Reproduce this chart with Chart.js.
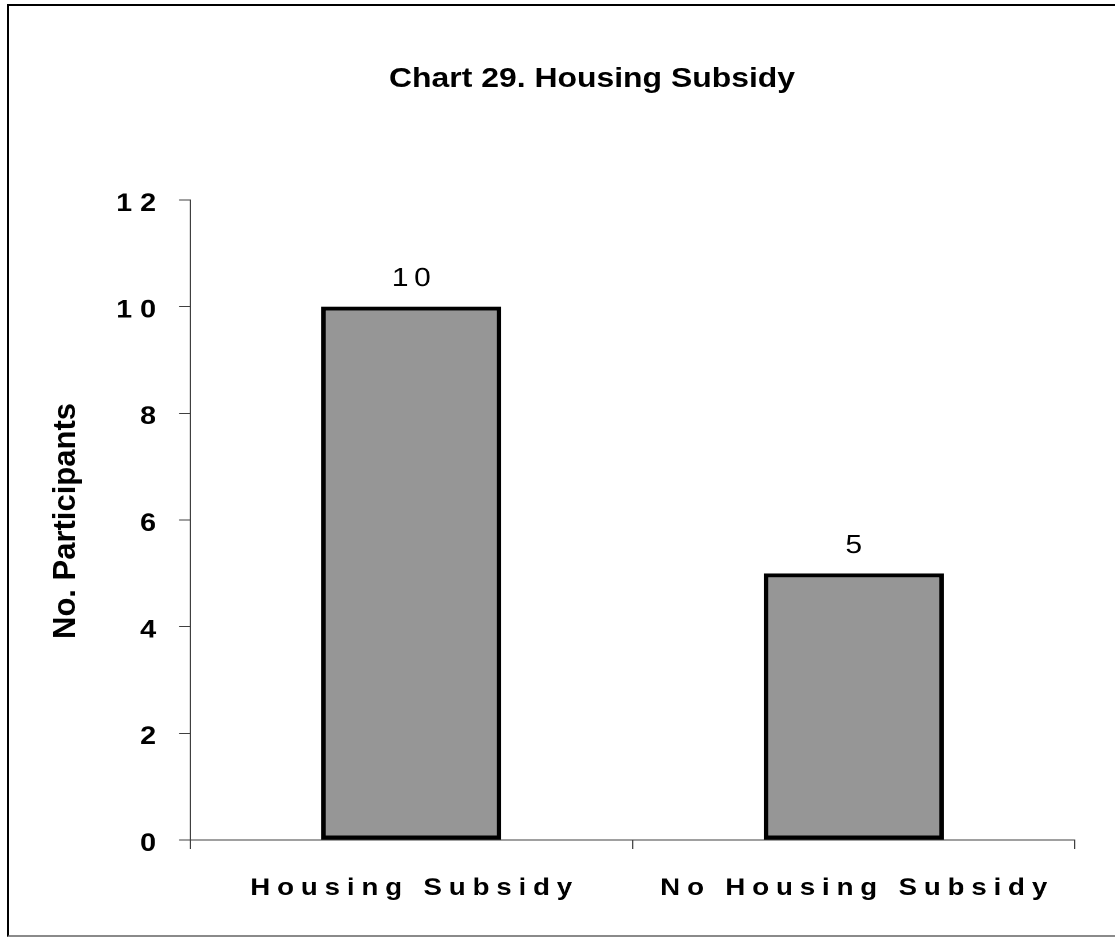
<!DOCTYPE html>
<html>
<head>
<meta charset="utf-8">
<script src="https://cdn.jsdelivr.net/npm/chart.js@4.4.0/dist/chart.umd.min.js"></script>
<style>
html, body { margin: 0; padding: 0; background: #fff; overflow: hidden; }
#page { position: relative; width: 1115px; height: 937px; overflow: hidden; background: #fff; }
#frame { position: absolute; left: 7px; top: 4px; width: 1200px; height: 933px; box-sizing: border-box;
  border-left: 2px solid #000; border-top: 2px solid #000; border-bottom: 2px solid #8a8a8a; }
#chart { position: absolute; left: 0; top: 0; }
#title { position: absolute; left: 292px; top: 64px; width: 600px; text-align: center; white-space: nowrap;
  font: bold 28px/28px 'Liberation Sans', Arial, sans-serif; color: #000; transform: scaleX(1.14); }
#ytitle { position: absolute; left: -135px; top: 506px; width: 400px; height: 30px; text-align: center; white-space: nowrap;
  font: bold 31px/30px 'Liberation Sans', Arial, sans-serif; color: #000; transform: rotate(-90deg); }
</style>
</head>
<body>
<div id="page">
  <div id="frame"></div>
  <canvas id="chart" width="970" height="937" style="width:1115px;height:937px;"></canvas>
  <div id="title">Chart 29. Housing Subsidy</div>
  <div id="ytitle">No. Participants</div>
</div>
<script>
const categories = ['Housing Subsidy', 'No Housing Subsidy'];
const participants = [10, 5];
const yTickValues = [0, 2, 4, 6, 8, 10, 12];

const FONT = "'Liberation Sans', Arial, sans-serif";

const spacingPlugin = {
  id: 'spacing',
  beforeDraw(chart) {
    const cfg = { x: { sp: 6, dx: 3, dy: 0 }, y: { sp: 7, dx: 0, dy: 4 } };
    Object.keys(cfg).forEach(id => {
      const sc = chart.scales[id];
      if (!sc || sc._wrappedLabels) return;
      const orig = sc.drawLabels;
      const c = cfg[id];
      sc.drawLabels = function (area) {
        const ctx = this.ctx;
        ctx.save();
        ctx.letterSpacing = c.sp + 'px';
        ctx.translate(c.dx, c.dy);
        orig.call(this, area);
        ctx.restore();
      };
      sc._wrappedLabels = true;
    });
  }
};

const valueLabels = {
  id: 'valueLabels',
  afterDatasetsDraw(chart) {
    const ctx = chart.ctx;
    const meta = chart.getDatasetMeta(0);
    ctx.save();
    ctx.font = '26px ' + FONT;
    ctx.fillStyle = '#000';
    ctx.textAlign = 'center';
    ctx.textBaseline = 'alphabetic';
    ctx.letterSpacing = '5px';
    meta.data.forEach((bar, i) => {
      ctx.fillText(String(participants[i]), bar.x + 2.5, bar.y - 20.5);
    });
    ctx.restore();
  }
};

new Chart(document.getElementById('chart'), {
  type: 'bar',
  data: {
    labels: categories,
    datasets: [{
      data: participants,
      backgroundColor: '#969696',
      borderColor: '#000',
      borderWidth: 4,
      borderSkipped: false,
      barPercentage: 0.407,
      categoryPercentage: 1
    }]
  },
  options: {
    responsive: false,
    animation: false,
    devicePixelRatio: 2,
    layout: { padding: { left: 0, right: 34.8, top: 200, bottom: 0 } },
    plugins: { legend: { display: false }, title: { display: false }, tooltip: { enabled: false } },
    scales: {
      x: {
        grid: { drawOnChartArea: false, drawTicks: true, tickLength: 9, color: '#404040', lineWidth: 1, offset: true },
        border: { display: true, color: '#404040', width: 1 },
        ticks: { font: { family: FONT, size: 24, weight: 'bold' }, color: '#000', padding: 25, maxRotation: 0, minRotation: 0, autoSkip: false },
        afterFit(s) { s.height = 97; }
      },
      y: {
        min: 0,
        max: 12,
        afterBuildTicks(s) { s.ticks = yTickValues.map(v => ({ value: v })); },
        grid: { drawOnChartArea: false, drawTicks: true, tickLength: 9.5, color: '#404040', lineWidth: 1 },
        border: { display: true, color: '#404040', width: 1 },
        ticks: { font: { family: FONT, size: 25, weight: 'bold' }, color: '#000', padding: 13 },
        afterFit(s) { s.width = 165.3; }
      }
    }
  },
  plugins: [spacingPlugin, valueLabels]
});
</script>
</body>
</html>
